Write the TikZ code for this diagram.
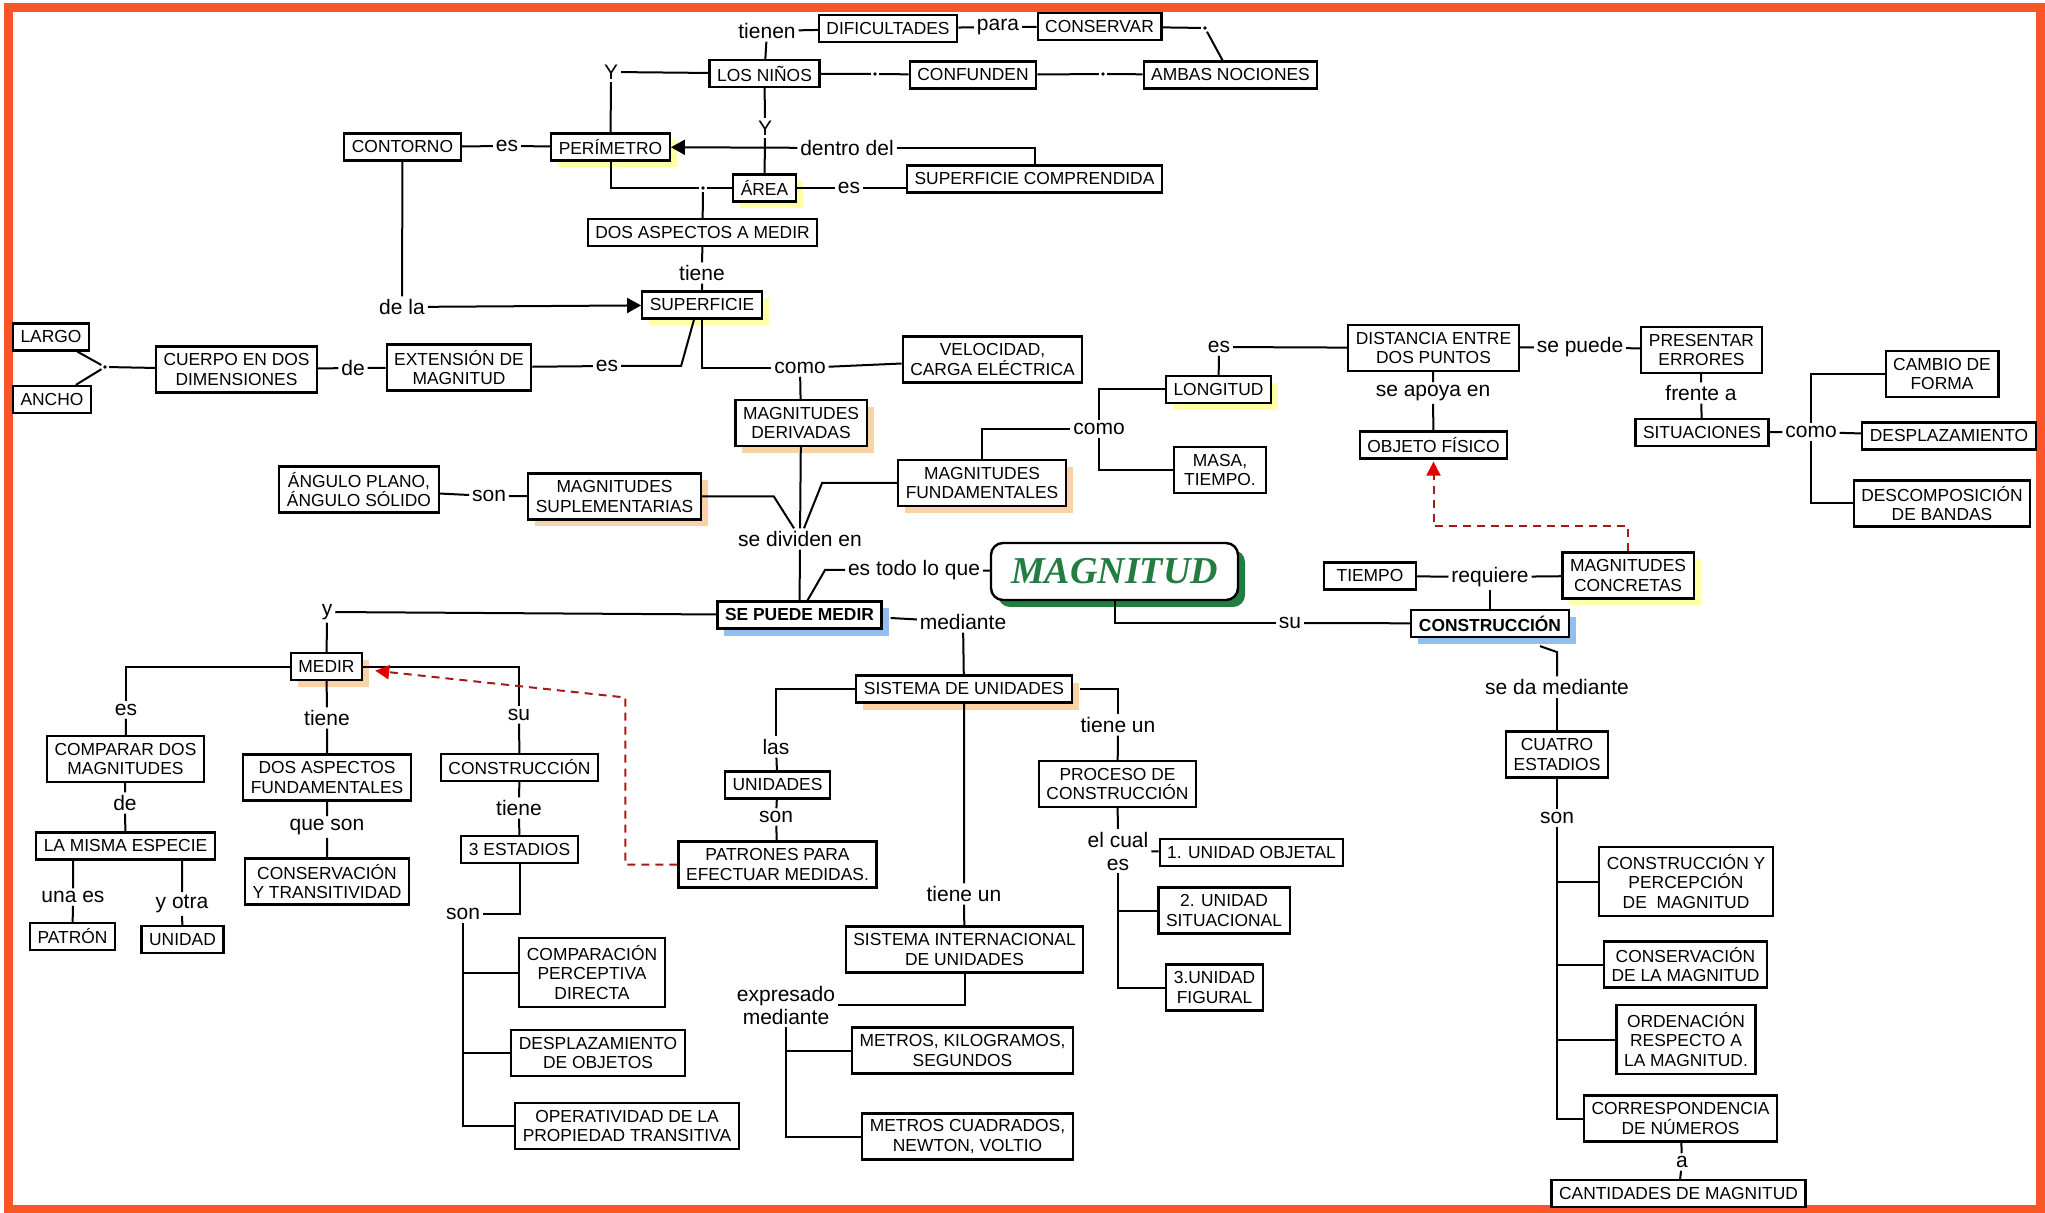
\documentclass[tikz,border=0pt]{standalone}
\usepackage{fontspec}
\setmainfont{Liberation Sans}
\newfontfamily\titulo{Liberation Serif}
\usetikzlibrary{arrows.meta,shadows}

\definecolor{borde}{RGB}{250,85,40}
\definecolor{sombraam}{RGB}{255,255,165}
\definecolor{sombranar}{RGB}{250,210,168}
\definecolor{sombraaz}{RGB}{145,192,240}
\definecolor{verde}{RGB}{35,125,65}
\definecolor{rojoosc}{RGB}{165,25,25}
\definecolor{rojopunta}{RGB}{225,0,0}

\tikzset{
	concepto/.style={draw, line width=1.1pt, fill=white, align=center, inner xsep=3.8pt, inner ysep=2pt,
		minimum height=13.5pt, font=\fontsize{8.7}{9.6}\selectfont},
	concepto2/.style={concepto, minimum height=23pt},
	concepto3/.style={concepto, minimum height=34.5pt},
	enlace/.style={inner sep=1pt, align=center, font=\fontsize{10.5}{11.5}\selectfont},
	punto/.style={circle, fill, inner sep=0pt, minimum size=1.8pt, outer sep=1.2pt},
	amarilla/.style={drop shadow={shadow xshift=3.5pt, shadow yshift=-3.5pt, fill=sombraam, opacity=1}},
	naranja/.style={drop shadow={shadow xshift=3.5pt, shadow yshift=-3.5pt, fill=sombranar, opacity=1}},
	azul/.style={drop shadow={shadow xshift=3.5pt, shadow yshift=-3.5pt, fill=sombraaz, opacity=1}},
	clave/.style={concepto, azul, font=\fontsize{8.7}{9.6}\selectfont\bfseries},
	flecha/.style={-{Triangle[length=7pt,width=7.5pt]}},
	relacion/.style={draw=rojoosc, dash pattern=on 4pt off 3pt, shorten >=1pt,
		-{Triangle[length=7pt,width=7pt,color=rojopunta]}},
}

\begin{document}
\begin{tikzpicture}[x=0.5pt, y=-0.5pt, line width=1pt]
		\useasboundingbox (0,0) rectangle (2045,1213);
		\draw[borde, line width=4.5pt] (8,8) rectangle (2040,1209);

		% conceptos
		\node[concepto] (dific) at (888,28.5) {DIFICULTADES};
		\node[concepto] (conservar) at (1099.5,26.5) {CONSERVAR};
		\node[concepto] (ninos) at (764.5,73.5) {LOS NIÑOS};
		\node[concepto] (confunden) at (973,75) {CONFUNDEN};
		\node[concepto] (ambas) at (1230.5,75) {AMBAS NOCIONES};
		\node[concepto] (contorno) at (402.5,147) {CONTORNO};
		\node[concepto, amarilla] (perimetro) at (610.5,147) {PERÍMETRO};
		\node[concepto, amarilla] (area) at (764.5,188) {ÁREA};
		\node[concepto] (supcomp) at (1034.5,179) {SUPERFICIE COMPRENDIDA};
		\node[concepto] (dosasp) at (702.5,232.5) {DOS ASPECTOS A MEDIR};
		\node[concepto, amarilla] (superficie) at (702,305) {SUPERFICIE};
		\node[concepto] (largo) at (51,337) {LARGO};
		\node[concepto] (ancho) at (52,399.5) {ANCHO};
		\node[concepto2] (cuerpo) at (236.5,369.5) {CUERPO EN DOS\\DIMENSIONES};
		\node[concepto2] (extension) at (459,367.5) {EXTENSIÓN DE\\MAGNITUD};
		\node[concepto2] (velocidad) at (992.5,359.5) {VELOCIDAD,\\CARGA ELÉCTRICA};
		\node[concepto2, naranja] (derivadas) at (801,423) {MAGNITUDES\\DERIVADAS};
		\node[concepto2] (distancia) at (1433.5,348) {DISTANCIA ENTRE\\DOS PUNTOS};
		\node[concepto2] (presentar) at (1701.5,350) {PRESENTAR\\ERRORES};
		\node[concepto2] (cambio) at (1942,374) {CAMBIO DE\\FORMA};
		\node[concepto, amarilla] (longitud) at (1218.5,389.5) {LONGITUD};
		\node[concepto] (objeto) at (1433.5,445) {OBJETO FÍSICO};
		\node[concepto] (situaciones) at (1702,432.5) {SITUACIONES};
		\node[concepto] (desplaz) at (1949,436) {DESPLAZAMIENTO};
		\node[concepto2] (descomp) at (1942,503.5) {DESCOMPOSICIÓN\\DE BANDAS};
		\node[concepto2, minimum width=46pt] (masa) at (1220,470) {MASA,\\TIEMPO.};
		\node[concepto2, naranja] (fundamentales) at (982,483) {MAGNITUDES\\FUNDAMENTALES};
		\node[concepto2, naranja] (suplementarias) at (614.5,496.5) {MAGNITUDES\\SUPLEMENTARIAS};
		\node[concepto2] (angulo) at (359,489.5) {ÁNGULO PLANO,\\ÁNGULO SÓLIDO};
		\node[draw, line width=1.2pt, rounded corners=6pt, fill=white, minimum width=123.5pt, minimum height=28.5pt,
			text=verde, font=\titulo\bfseries\itshape\fontsize{19}{20}\selectfont,
			drop shadow={shadow xshift=3.5pt, shadow yshift=-3.5pt, fill=verde, opacity=1}] (magnitud) at (1114.5,571.5) {MAGNITUD};
		\node[clave] (sepuede) at (799.5,615) {SE PUEDE MEDIR};
		\node[concepto, minimum width=46pt] (tiempo) at (1370,576) {TIEMPO};
		\node[concepto2, amarilla] (concretas) at (1628,575.5) {MAGNITUDES\\CONCRETAS};
		\node[clave] (construccionR) at (1490,623.5) {CONSTRUCCIÓN};
		\node[concepto, naranja] (medir) at (326.5,666.5) {MEDIR};
		\node[concepto, naranja] (sistema) at (964,689) {SISTEMA DE UNIDADES};
		\node[concepto2] (comparar) at (125.5,759) {COMPARAR DOS\\MAGNITUDES};
		\node[concepto2] (dosfund) at (327,777.5) {DOS ASPECTOS\\FUNDAMENTALES};
		\node[concepto] (construccionL) at (519.5,767.5) {CONSTRUCCIÓN};
		\node[concepto] (unidades) at (777.5,785) {UNIDADES};
		\node[concepto2] (proceso) at (1117.5,784) {PROCESO DE\\CONSTRUCCIÓN};
		\node[concepto2] (cuatro) at (1557,754.5) {CUATRO\\ESTADIOS};
		\node[concepto] (misma) at (125.5,846) {LA MISMA ESPECIE};
		\node[concepto2] (conservacion) at (327,881.5) {CONSERVACIÓN\\Y TRANSITIVIDAD};
		\node[concepto] (tresest) at (519.5,849.5) {3 ESTADIOS};
		\node[concepto2] (patrones) at (777.5,864.5) {PATRONES PARA\\EFECTUAR MEDIDAS.};
		\node[concepto] (objetal) at (1251.5,852.5) {1. UNIDAD OBJETAL};
		\node[concepto2] (situacional) at (1224,910.5) {2. UNIDAD\\SITUACIONAL};
		\node[concepto2] (figural) at (1214.5,987.5) {3.UNIDAD\\FIGURAL};
		\node[concepto] (patron) at (72.5,936.5) {PATRÓN};
		\node[concepto] (unidad) at (182.5,939.5) {UNIDAD};
		\node[concepto2] (sint) at (964.5,949.5) {SISTEMA INTERNACIONAL\\DE UNIDADES};
		\node[concepto3] (percepcion) at (1686,881.5) {CONSTRUCCIÓN Y\\PERCEPCIÓN\\DE~~MAGNITUD};
		\node[concepto2] (conservmag) at (1685.5,964.5) {CONSERVACIÓN\\DE LA MAGNITUD};
		\node[concepto3] (comparacion) at (592,972.5) {COMPARACIÓN\\PERCEPTIVA\\DIRECTA};
		\node[concepto3] (ordenacion) at (1686,1039.5) {ORDENACIÓN\\RESPECTO A\\LA MAGNITUD.};
		\node[concepto2] (desplazobj) at (598,1053) {DESPLAZAMIENTO\\DE OBJETOS};
		\node[concepto2] (metroskg) at (962.5,1050.5) {METROS, KILOGRAMOS,\\SEGUNDOS};
		\node[concepto2] (correspondencia) at (1680.5,1118.5) {CORRESPONDENCIA\\DE NÚMEROS};
		\node[concepto2] (operatividad) at (627,1126) {OPERATIVIDAD DE LA\\PROPIEDAD TRANSITIVA};
		\node[concepto2] (metroscuad) at (967.5,1136.5) {METROS CUADRADOS,\\NEWTON, VOLTIO};
		\node[concepto] (cantidades) at (1678.5,1193.5) {CANTIDADES DE MAGNITUD};

		% palabras de enlace
		\node[enlace] (tienen) at (767,31) {tienen};
		\node[enlace] (para) at (998,27) {para};
		\node[enlace] (y1) at (611,72) {Y};
		\node[enlace] (y2) at (765,128) {Y};
		\node[enlace] (dentro) at (847,148) {dentro del};
		\node[enlace] (es1) at (507,146) {es};
		\node[enlace] (es2) at (849,188) {es};
		\node[enlace] (tiene1) at (702,273) {tiene};
		\node[enlace] (dela) at (402,307) {de la};
		\node[enlace] (es3) at (607,366) {es};
		\node[enlace] (de1) at (353,368) {de};
		\node[enlace] (como1) at (800,368) {como};
		\node[enlace] (es4) at (1219,347) {es};
		\node[enlace] (sepuede2) at (1580,347) {se puede};
		\node[enlace] (seapoya) at (1433,393) {se apoya en};
		\node[enlace] (frente) at (1701,393) {frente a};
		\node[enlace] (como2) at (1811,432) {como};
		\node[enlace] (como3) at (1099,429) {como};
		\node[enlace] (son1) at (489,496) {son};
		\node[enlace] (dividen) at (800,539) {se dividen en};
		\node[enlace] (todo) at (914,570) {es todo lo que};
		\node[enlace] (mediante1) at (963,622) {mediante};
		\node[enlace] (su1) at (1290,623) {su};
		\node[enlace] (requiere) at (1490,577) {requiere};
		\node[enlace] (sedamed) at (1557,687) {se da mediante};
		\node[enlace] (y3) at (327,612) {y};
		\node[enlace] (es5) at (126,710) {es};
		\node[enlace] (tiene2) at (327,718) {tiene};
		\node[enlace] (su2) at (519,715) {su};
		\node[enlace] (las) at (776,747) {las};
		\node[enlace] (tieneun1) at (1118,725) {tiene un};
		\node[enlace] (de2) at (125,803) {de};
		\node[enlace] (queson) at (327,827) {que son};
		\node[enlace] (tiene3) at (519,808) {tiene};
		\node[enlace] (son2) at (776,817) {son};
		\node[enlace] (elcual) at (1118,851) {el cual\\es};
		\node[enlace] (unaes) at (73,897) {una es};
		\node[enlace] (yotra) at (182,904) {y otra};
		\node[enlace] (son3) at (463,914) {son};
		\node[enlace] (son4) at (1557,818) {son};
		\node[enlace] (tieneun2) at (964,894) {tiene un};
		\node[enlace] (expresado) at (786,1005) {expresado\\mediante};
		\node[enlace] (a) at (1682,1162) {a};

		\node[punto] (d1) at (875,74) {};
		\node[punto] (d2) at (1103,74) {};
		\node[punto] (d3) at (1205,28) {};
		\node[punto] (d4) at (703,188) {};
		\node[punto] (d5) at (105,367) {};

		% parte superior
		\draw (ninos) -- (tienen) -- (dific) -- (para) -- (conservar) -- (d3) -- (ambas);
		\draw (ninos) -- (d1) -- (confunden) -- (d2) -- (ambas);
		\draw (ninos) -- (y1) -- (perimetro);
		\draw (ninos) -- (y2) -- (area);
		\draw[flecha] (dentro) -- (perimetro);
		\draw (dentro.east) -| (supcomp.north);
		\draw (area) -- (es2) -- (es2 -| supcomp.west);
		\draw (perimetro.south) |- (d4);
		\draw (d4) -- (area);
		\draw (d4) -- (dosasp) -- (tiene1) -- (superficie);
		\draw (contorno) -- (es1) -- (perimetro);
		\draw (contorno) -- (dela);
		\draw[flecha] (dela) -- (superficie);
		\draw (largo) -- (d5) -- (ancho);
		\draw (d5) -- (cuerpo) -- (de1) -- (extension) -- (es3);
		\draw (es3.east) -- ++(60,0) -- ([xshift=-4pt]superficie.south);
		\draw (superficie.south) |- (como1);
		\draw (como1) -- (velocidad);
		\draw (como1) -- (derivadas) -- (dividen);
		\draw (fundamentales.west) -- ++(-75,0) -- ([xshift=2pt]dividen.north);
		\draw (suplementarias.east) -- ++(72,0) -- ([xshift=-3pt]dividen.north);
		\draw (angulo) -- (son1) -- (suplementarias);
		\draw (fundamentales.north) |- (como3);
		\draw (como3) |- (longitud);
		\draw (como3) |- (masa);
		\draw (longitud) -- (es4) -- (distancia) -- (sepuede2) -- (presentar);
		\draw (distancia) -- (seapoya) -- (objeto);
		\draw (presentar) -- (frente) -- (situaciones) -- (como2) -- (desplaz);
		\draw (como2) |- (cambio);
		\draw (como2) |- (descomp);

		% centro
		\draw (dividen) -- (sepuede);
		\draw (todo.west) -- ++(-20,0) -- ([xshift=4pt]sepuede.north);
		\draw (todo) -- (magnitud);
		\draw (magnitud.south) |- (su1);
		\draw (su1) -- (construccionR);
		\draw (tiempo) -- (requiere) -- (concretas);
		\draw (requiere) -- (construccionR);
		\draw[relacion] (concretas.north) -- ++(0,-25) -| (objeto.south);
		\draw ([shift={(25pt,-4pt)}]construccionR.south) -- ++(17,6) -- (sedamed);
		\draw (sedamed) -- (cuatro) -- (son4);
		\draw (son4) |- (percepcion);
		\draw (son4) |- (conservmag);
		\draw (son4) |- (ordenacion);
		\draw (son4) |- (correspondencia);
		\draw (correspondencia) -- (a) -- (cantidades);

		% parte inferior
		\draw (sepuede) -- (y3) -- (medir);
		\draw ([shift={(4pt,-1.5pt)}]sepuede.east) -- (mediante1);
		\draw (mediante1) -- (sistema);
		\draw (medir) -| (es5);
		\draw (es5) -- (comparar) -- (de2) -- (misma);
		\draw (medir) -| (su2);
		\draw (su2) -- (construccionL) -- (tiene3) -- (tresest);
		\draw (medir) -- (tiene2) -- (dosfund) -- (queson) -- (conservacion);
		\draw (unaes |- misma.south) -- (unaes) -- (patron);
		\draw (yotra |- misma.south) -- (yotra) -- (unidad);
		\draw (tresest) |- (son3);
		\draw (son3) |- (comparacion);
		\draw (son3) |- (desplazobj);
		\draw (son3) |- (operatividad);
		\draw[relacion] (patrones.west) -| ++(-52,-167) -- ([shift={(5pt,-2pt)}]medir.east);
		\draw (sistema) -| (las);
		\draw (las) -- (unidades) -- (son2) -- (patrones);
		\draw ([xshift=3.5pt]sistema.east) -| (tieneun1);
		\draw (tieneun1) -- (proceso) -- (elcual) -- (objetal);
		\draw (elcual) |- (situacional);
		\draw (elcual) |- (figural);
		\draw (sistema) -- (tieneun2) -- (sint);
		\draw (sint) |- (expresado);
		\draw (expresado) |- (metroskg);
		\draw (expresado) |- (metroscuad);
	\end{tikzpicture}
\end{document}
